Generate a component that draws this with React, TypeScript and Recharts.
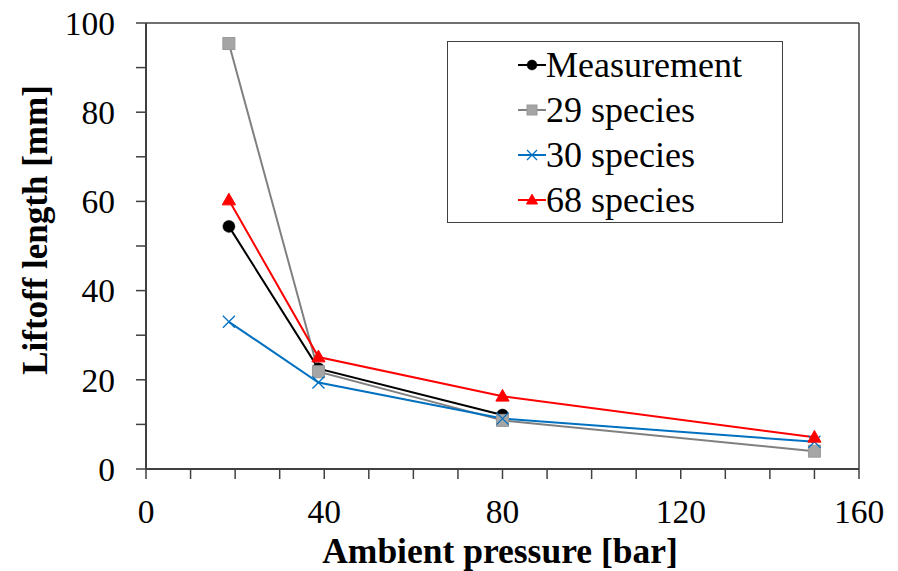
import React from 'react';
import { LineChart, Line, XAxis, YAxis, Legend, ReferenceLine, Label } from 'recharts';

const pressures = [18.6, 38.7, 80, 150];
const measurement = [54.4, 22.5, 12.1, null];
const species29 = [95.4, 21.8, 10.9, 4.0];
const species30 = [33.0, 19.4, 11.3, 6.1];
const species68 = [60.3, 25.1, 16.3, 7.1];

const xTicks = [0, 10, 20, 30, 40, 50, 60, 70, 80, 90, 100, 110, 120, 130, 140, 150, 160];
const xLabelTicks = [0, 40, 80, 120, 160];
const yTicks = [0, 10, 20, 30, 40, 50, 60, 70, 80, 90, 100];
const yLabelTicks = [0, 20, 40, 60, 80, 100];

const data = pressures.map((p, i) => ({
  p,
  m: measurement[i],
  s29: species29[i],
  s30: species30[i],
  s68: species68[i],
}));

const FONT = '"Liberation Serif", "Times New Roman", serif';

type Shape = 'circle' | 'square' | 'cross' | 'triangle';

const series: { key: string; name: string; color: string; fill: string; shape: Shape }[] = [
  { key: 'm', name: 'Measurement', color: '#000000', fill: '#000000', shape: 'circle' },
  { key: 's29', name: '29 species', color: '#808080', fill: '#A5A5A5', shape: 'square' },
  { key: 's30', name: '30 species', color: '#0070C0', fill: '#0070C0', shape: 'cross' },
  { key: 's68', name: '68 species', color: '#FF0000', fill: '#FF0000', shape: 'triangle' },
];

function marker(shape: Shape, cx: number, cy: number, fill: string, s: number) {
  if (shape === 'circle') return <circle cx={cx} cy={cy} r={s} fill={fill} stroke={fill} strokeWidth={0.5} />;
  if (shape === 'square')
    return <rect x={cx - s} y={cy - s} width={2 * s} height={2 * s} fill={fill} stroke="#999999" strokeWidth={1} />;
  if (shape === 'cross')
    return (
      <g stroke={fill} strokeWidth={1.3}>
        <line x1={cx - s} y1={cy - s} x2={cx + s} y2={cy + s} />
        <line x1={cx - s} y1={cy + s} x2={cx + s} y2={cy - s} />
      </g>
    );
  return (
    <polygon
      points={`${cx},${cy - s * 1.15} ${cx + s * 1.1},${cy + s * 0.8} ${cx - s * 1.1},${cy + s * 0.8}`}
      fill={fill}
      stroke={fill}
    />
  );
}

const makeDot = (shape: Shape, fill: string) => (props: any) => {
  const { cx, cy, index } = props;
  if (cx == null || cy == null || isNaN(cx) || isNaN(cy)) return <g key={index} />;
  return <g key={index}>{marker(shape, cx, cy, fill, 6)}</g>;
};

const XTick = (props: any) => {
  const { x, y, payload } = props;
  if (!xLabelTicks.includes(payload.value)) return <g />;
  return (
    <text x={x} y={y} dy="0.71em" textAnchor="middle" fontFamily={FONT} fontSize={33.5} fill="#000">
      {payload.value}
    </text>
  );
};

const YTick = (props: any) => {
  const { x, y, payload } = props;
  if (!yLabelTicks.includes(payload.value)) return <g />;
  return (
    <text x={x} y={y} dy="0.35em" textAnchor="end" fontFamily={FONT} fontSize={33.5} fill="#000">
      {payload.value}
    </text>
  );
};

const LegendBox = () => (
  <div
    style={{
      width: 336,
      height: 182,
      boxSizing: 'border-box',
      border: '1.5px solid #404040',
      background: '#fff',
      paddingLeft: 70,
      fontFamily: FONT,
      fontSize: 36,
      color: '#000',
    }}
  >
    {series.map((s) => (
      <div key={s.key} style={{ height: 45.2, display: 'flex', alignItems: 'center', whiteSpace: 'nowrap' }}>
        <svg width={28} height={20} style={{ flex: 'none' }}>
          <line x1={0} y1={10} x2={28} y2={10} stroke={s.color} strokeWidth={2} />
          {marker(s.shape, 14, 10, s.fill, 5)}
        </svg>
        <span style={{ lineHeight: 1 }}>{s.name}</span>
      </div>
    ))}
  </div>
);

export default function App() {
  return (
    <div style={{ position: 'absolute', left: 0, top: 0, width: 898, height: 571, background: '#fff' }}>
      <LineChart width={898} height={571} data={data} margin={{ top: 23, right: 39, bottom: 42, left: 86 }}>
        <XAxis
          dataKey="p"
          type="number"
          domain={[0, 160]}
          ticks={xTicks}
          interval={0}
          height={60}
          tickSize={10}
          tickMargin={20}
          tick={<XTick />}
          axisLine={{ stroke: '#404040', strokeWidth: 2 }}
          tickLine={{ stroke: '#404040', strokeWidth: 1.5 }}
        >
          <Label
            content={() => (
              <text x={500} y={563} textAnchor="middle" fontFamily={FONT} fontSize={35.5} fontWeight="bold" fill="#000">
                Ambient pressure [bar]
              </text>
            )}
          />
        </XAxis>
        <YAxis
          type="number"
          domain={[0, 100]}
          ticks={yTicks}
          interval={0}
          width={60}
          tickSize={10}
          tickMargin={21}
          tick={<YTick />}
          axisLine={{ stroke: '#404040', strokeWidth: 2 }}
          tickLine={{ stroke: '#404040', strokeWidth: 1.5 }}
        >
          <Label
            content={() => (
              <text
                x={47}
                y={230}
                transform="rotate(-90 47 230)"
                textAnchor="middle"
                fontFamily={FONT}
                fontSize={35}
                fontWeight="bold"
                fill="#000"
              >
                Liftoff length [mm]
              </text>
            )}
          />
        </YAxis>
        <ReferenceLine y={100} stroke="#404040" strokeWidth={1.5} />
        <ReferenceLine x={160} stroke="#404040" strokeWidth={1.5} />
        {series.map((s) => (
          <Line
            key={s.key}
            dataKey={s.key}
            name={s.name}
            stroke={s.color}
            strokeWidth={2}
            dot={makeDot(s.shape, s.fill)}
            activeDot={false}
            isAnimationActive={false}
            connectNulls={false}
          />
        ))}
        <Legend
          layout="horizontal"
          verticalAlign="middle"
          align="center"
          content={() => <LegendBox />}
          wrapperStyle={{ position: 'absolute', left: 447, top: 41, width: 336, height: 182 }}
        />
      </LineChart>
    </div>
  );
}
